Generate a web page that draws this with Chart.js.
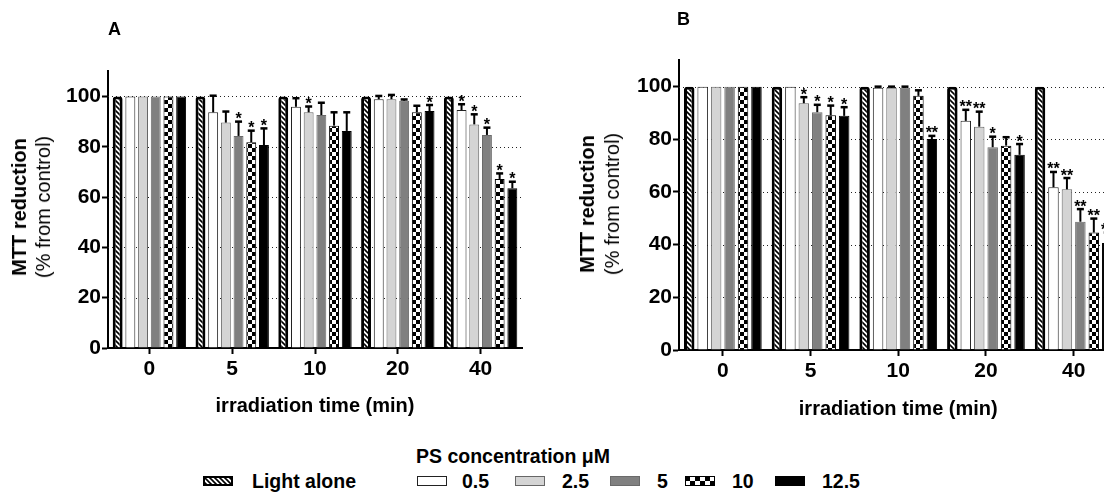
<!DOCTYPE html>
<html>
<head>
<meta charset="utf-8">
<script src="https://cdn.jsdelivr.net/npm/chart.js@4.4.1/dist/chart.umd.min.js"></script>
<style>
html,body{margin:0;padding:0;overflow:hidden;background:#fff;}
#wrap{position:relative;width:1104px;height:493px;overflow:hidden;font-family:"Liberation Sans",Arial,sans-serif;color:#000;}
.abs{position:absolute;white-space:nowrap;}
#wrap canvas{position:absolute;}
.ytitle{position:absolute;transform:translate(-50%,-50%) rotate(-90deg);text-align:center;font-size:20px;white-space:nowrap;}
.legtxt{position:absolute;white-space:nowrap;font-weight:bold;font-size:19.5px;transform:translateY(-50%);}
</style>
</head>
<body>
<div id="wrap">
  <canvas id="chartA" width="560" height="440" style="left:0px;top:0px"></canvas>
  <canvas id="chartB" width="600" height="440" style="left:560px;top:0px"></canvas>

  <div class="abs" style="left:108px;top:19px;font-weight:bold;font-size:18px">A</div>
  <div class="abs" style="left:677px;top:9px;font-weight:bold;font-size:18px">B</div>

  <div class="ytitle" style="left:31px;top:207px;line-height:24px"><b>MTT reduction</b><br>(% from control)</div>
  <div class="ytitle" style="left:600px;top:204px;line-height:25px"><b>MTT reduction</b><br>(% from control)</div>

  <div class="abs" style="left:513px;top:456px;transform:translate(-50%,-50%);font-weight:bold;font-size:19.5px">PS concentration μM</div>
  <div id="legend"></div>
</div>

<script>
// ---------------- data ----------------
const categories = ['0', '5', '10', '20', '40'];
const seriesLabels = ['Light alone', '0.5', '2.5', '5', '10', '12.5'];
const yTicks = [0, 20, 40, 60, 80, 100];

// Panel A  (MTT reduction, % from control)
const lightA = [100, 100, 100, 100, 100];
const ps05A  = [100, 93.7, 95.9, 98.9, 94.6];
const ps25A  = [100, 89.6, 93.7, 98.9, 88.9];
const ps5A   = [100, 84.3, 92.6, 98.3, 84.7];
const ps10A  = [100, 81.8, 88.4, 93.7, 67.2];
const ps125A = [100, 80.7, 86.3, 94.2, 63.5];

const errLightA = [0, 0, 0, 0, 0];
const err05A  = [0, 6.6, 3.4, 1.3, 2.3];
const err25A  = [0, 4.4, 2.3, 1.7, 4.0];
const err5A   = [0, 5.7, 4.9, 0.5, 2.9];
const err10A  = [0, 4.6, 5.3, 2.6, 2.2];
const err125A = [0, 6.6, 7.4, 2.4, 2.6];

const sigLightA = ['', '', '', '', ''];
const sig05A  = ['', '', '', '', '*'];
const sig25A  = ['', '', '*', '', '*'];
const sig5A   = ['', '*', '', '', '*'];
const sig10A  = ['', '*', '', '', '*'];
const sig125A = ['', '*', '', '*', '*'];

// Panel B
const lightB = [100, 100, 100, 100, 100];
const ps05B  = [100, 100, 99.6, 87.0, 61.8];
const ps25B  = [100, 93.7, 99.6, 84.8, 61.0];
const ps5B   = [100, 90.3, 99.6, 77.0, 48.7];
const ps10B  = [100, 89.1, 96.5, 77.6, 44.6];
const ps125B = [100, 88.9, 80.1, 74.1, 40.6];

const errLightB = [0, 0, 0, 0, 0];
const err05B  = [0, 0, 0.4, 4.2, 5.8];
const err25B  = [0, 2.3, 0.4, 5.7, 4.3];
const err5B   = [0, 2.8, 0.4, 4.0, 4.8];
const err10B  = [0, 3.7, 2.1, 3.2, 5.3];
const err125B = [0, 3.3, 1.2, 4.1, 4.0];

const sigLightB = ['', '', '', '', ''];
const sig05B  = ['', '', '', '**', '**'];
const sig25B  = ['', '*', '', '**', '**'];
const sig5B   = ['', '*', '', '*', '**'];
const sig10B  = ['', '*', '', '', '**'];
const sig125B = ['', '*', '**', '*', '**'];

// ---------------- styles ----------------
const FONT = '"Liberation Sans", Arial, sans-serif';
Chart.defaults.font.family = FONT;
Chart.defaults.color = '#000';

function makeHatch() {
  const s = 5;
  const c = document.createElement('canvas'); c.width = s; c.height = s;
  const g = c.getContext('2d');
  g.fillStyle = '#fff'; g.fillRect(0, 0, s, s);
  g.strokeStyle = '#000'; g.lineWidth = 1.6;
  g.beginPath();
  g.moveTo(-1, -1); g.lineTo(s + 1, s + 1);
  g.moveTo(-1, s - 1); g.lineTo(1, s + 1);
  g.moveTo(s - 1, -1); g.lineTo(s + 1, 1);
  g.stroke();
  return document.createElement('canvas').getContext('2d').createPattern(c, 'repeat');
}
function makeChecker(q) {
  const c = document.createElement('canvas'); c.width = 2 * q; c.height = 2 * q;
  const g = c.getContext('2d');
  g.fillStyle = '#fff'; g.fillRect(0, 0, 2 * q, 2 * q);
  g.fillStyle = '#000'; g.fillRect(0, 0, q, q); g.fillRect(q, q, q, q);
  return document.createElement('canvas').getContext('2d').createPattern(c, 'repeat');
}
const hatch = makeHatch();
const checker = makeChecker(4);
const checkerLegend = makeChecker(5);

const fills   = [hatch, '#ffffff', '#d4d4d4', '#808080', checker, '#000000'];
const legendFills = [hatch, '#ffffff', '#d4d4d4', '#808080', checkerLegend, '#000000'];
const borders = ['#000000', '#222222', '#666666', '#6a6a6a', '#000000', '#000000'];
const bWidths = [3, 1, 1, 1, 1, 1];

function buildDatasets(values, errs, sigs) {
  return values.map((v, i) => ({
    label: seriesLabels[i],
    data: v,
    errorValues: errs[i],
    stars: sigs[i],
    backgroundColor: fills[i],
    borderColor: borders[i],
    borderWidth: bWidths[i],
    borderRadius: i === 0 ? 3 : 0,
    borderSkipped: 'start',
    categoryPercentage: 0.92,
    barPercentage: 0.78
  }));
}

const overlayPlugin = {
  id: 'overlay',
  beforeDatasetsDraw(chart) {
    const {ctx, chartArea, scales} = chart;
    const y = scales.y;
    ctx.save();
    ctx.strokeStyle = '#222';
    ctx.lineWidth = 1;
    ctx.setLineDash([1, 3]);
    yTicks.forEach(v => {
      if (v === 0) return;
      const py = Math.round(y.getPixelForValue(v)) + 0.5;
      ctx.beginPath();
      ctx.moveTo(chartArea.left, py);
      ctx.lineTo(chartArea.right, py);
      ctx.stroke();
    });
    ctx.restore();
  },
  afterDatasetsDraw(chart) {
    const {ctx, scales} = chart;
    const y = scales.y;
    ctx.save();
    chart.data.datasets.forEach((ds, i) => {
      const meta = chart.getDatasetMeta(i);
      meta.data.forEach((bar, j) => {
        const v = ds.data[j];
        const e = ds.errorValues ? ds.errorValues[j] : 0;
        let topY = y.getPixelForValue(v);
        if (e > 0) {
          const ey = y.getPixelForValue(v + e);
          ctx.strokeStyle = '#000';
          ctx.lineWidth = 2;
          ctx.beginPath();
          ctx.moveTo(bar.x, topY);
          ctx.lineTo(bar.x, ey);
          ctx.stroke();
          ctx.lineWidth = 2.5;
          ctx.beginPath();
          ctx.moveTo(bar.x - 3.5, ey);
          ctx.lineTo(bar.x + 3.5, ey);
          ctx.stroke();
          topY = ey;
        }
        const s = ds.stars ? ds.stars[j] : '';
        if (s) {
          ctx.fillStyle = '#000';
          ctx.font = 'bold 16px ' + FONT;
          ctx.textAlign = 'center';
          ctx.textBaseline = 'alphabetic';
          ctx.fillText(s, bar.x, topY + 2.5);
        }
      });
    });
    ctx.restore();
  }
};

function makeChart(id, datasets, geo) {
  return new Chart(document.getElementById(id), {
    type: 'bar',
    data: { labels: categories, datasets },
    plugins: [overlayPlugin],
    options: {
      responsive: false,
      animation: false,
      devicePixelRatio: 1,
      layout: { padding: geo.padding },
      plugins: { legend: { display: false }, tooltip: { enabled: false } },
      scales: {
        x: {
          offset: true,
          grid: { display: true, drawOnChartArea: false, drawTicks: true, offset: false,
                  tickLength: 6, tickWidth: 2, tickColor: '#000', color: '#000' },
          border: { display: true, color: '#000', width: 2 },
          ticks: { font: { size: 21, weight: 'bold' }, color: '#000', padding: 3,
                   maxRotation: 0, autoSkip: false },
          title: { display: true, text: 'irradiation time (min)', color: '#000',
                   font: { size: 20, weight: 'bold' }, padding: { top: 0, bottom: 0 } },
          afterFit: s => { s.height = geo.xH; }
        },
        y: {
          min: 0, max: 110,
          afterBuildTicks: s => { s.ticks = yTicks.map(v => ({ value: v })); },
          grid: { display: true, drawOnChartArea: false, drawTicks: true,
                  tickLength: 6, tickWidth: 2, tickColor: '#000', color: '#000' },
          border: { display: true, color: '#000', width: 2 },
          ticks: { font: { size: 21, weight: 'bold' }, color: '#000', padding: 1 },
          afterFit: s => { s.width = geo.yW; }
        }
      }
    }
  });
}

makeChart('chartA',
  buildDatasets([lightA, ps05A, ps25A, ps5A, ps10A, ps125A],
                [errLightA, err05A, err25A, err5A, err10A, err125A],
                [sigLightA, sig05A, sig25A, sig5A, sig10A, sig125A]),
  { yW: 108, xH: 70, padding: { left: 0, right: 38, top: 71.3, bottom: 22 } });

makeChart('chartB',
  buildDatasets([lightB, ps05B, ps25B, ps5B, ps10B, ps125B],
                [errLightB, err05B, err25B, err5B, err10B, err125B],
                [sigLightB, sig05B, sig25B, sig5B, sig10B, sig125B]),
  { yW: 119, xH: 71, padding: { left: 0, right: 42.5, top: 60.3, bottom: 19 } });

// ---------------- legend ----------------
const legendPos = [
  { box: 203, text: 252 },
  { box: 417, text: 462 },
  { box: 515, text: 562 },
  { box: 610, text: 657 },
  { box: 685, text: 732 },
  { box: 775, text: 822 }
];
const legendY = 481;
const legend = document.getElementById('legend');
seriesLabels.forEach((lab, i) => {
  const c = document.createElement('canvas');
  c.width = 30; c.height = 10;
  c.style.left = legendPos[i].box + 'px';
  c.style.top = (legendY - 5) + 'px';
  const g = c.getContext('2d');
  const bw = i === 0 ? 2 : 1;
  g.fillStyle = borders[i];
  g.fillRect(0, 0, 30, 10);
  g.fillStyle = legendFills[i];
  g.fillRect(bw, bw, 30 - 2 * bw, 10 - 2 * bw);
  legend.appendChild(c);
  const t = document.createElement('div');
  t.className = 'legtxt';
  t.textContent = lab;
  t.style.left = legendPos[i].text + 'px';
  t.style.top = legendY + 'px';
  legend.appendChild(t);
});
</script>
</body>
</html>
